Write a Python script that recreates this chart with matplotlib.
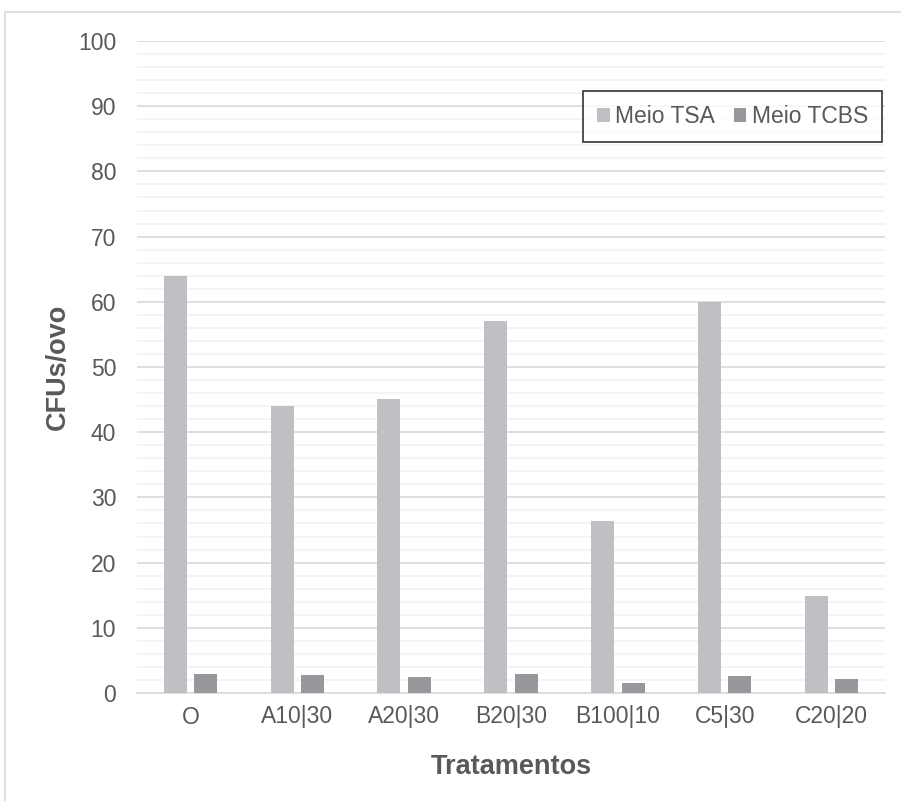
import matplotlib
matplotlib.use("Agg")
import matplotlib.pyplot as plt
from matplotlib.patches import Rectangle
import numpy as np

categories = ["O", "A10|30", "A20|30", "B20|30", "B100|10", "C5|30", "C20|20"]
tsa = [64.0, 44.0, 45.1, 57.0, 26.4, 60.0, 14.9]
tcbs = [2.9, 2.7, 2.5, 2.9, 1.6, 2.6, 2.2]
series_names = ["Meio TSA", "Meio TCBS"]

plt.rcParams['font.family'] = ['Liberation Sans', 'DejaVu Sans']
txt = '#595959'

fig = plt.figure(figsize=(9.01, 8.01), dpi=100)
ax = fig.add_axes([137/901, 1-693/801, (885-137)/901, (693-41)/801])

x = np.arange(len(categories))
w = 0.215
off = 0.142
ax.bar(x - off, tsa, w, color='#BFC0C4', label=series_names[0], zorder=3)
ax.bar(x + off, tcbs, w, color='#97989B', label=series_names[1], zorder=3)

ax.set_xlim(-0.5, len(categories) - 0.5)
ax.set_ylim(0, 100)
ax.set_yticks(np.arange(0, 101, 10))
ax.set_yticks(np.arange(0, 101, 2), minor=True)
ax.grid(axis='y', which='major', color='#D9D9D9', lw=1.2, zorder=0)
ax.grid(axis='y', which='minor', color='#F2F2F2', lw=1.2, zorder=0)
ax.tick_params(axis='both', which='both', length=0, colors=txt, labelsize=16.5)
ax.tick_params(axis='y', pad=15)
ax.tick_params(axis='x', pad=9)
ax.set_xticks(x)
ax.set_xticklabels(categories)
for s in ['top', 'right', 'left']:
    ax.spines[s].set_visible(False)
ax.spines['bottom'].set_color('#D9D9D9')
ax.spines['bottom'].set_linewidth(1.2)

ax.set_ylabel('CFUs/ovo', fontsize=19.5, fontweight='bold', color=txt, labelpad=5)
ax.set_xlabel('Tratamentos', fontsize=19.5, fontweight='bold', color=txt, labelpad=18)

leg = ax.legend(loc='upper right', bbox_to_anchor=((882-137)/748, (693-91)/652),
                ncol=2, fontsize=16.5, frameon=True, fancybox=False,
                handlelength=0.55, handleheight=0.55, handletextpad=0.25,
                columnspacing=0.8, borderpad=0.6, borderaxespad=0)
leg.get_frame().set_edgecolor('black')
leg.get_frame().set_linewidth(1.2)
for t in leg.get_texts():
    t.set_color(txt)

fig.patches.append(Rectangle((5/901, -0.1), 1.2, 1 - 12/801 + 0.1, transform=fig.transFigure,
                             fill=False, edgecolor='#D9D9D9', lw=1.2))

fig.savefig('out.png', dpi=100)
